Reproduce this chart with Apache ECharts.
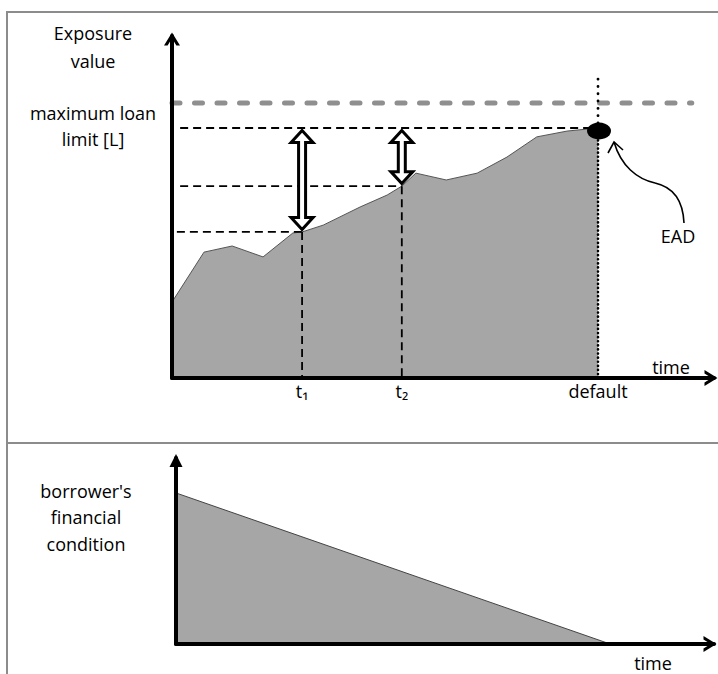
<!DOCTYPE html>
<html>
<head>
<meta charset="utf-8">
<script src="https://cdn.jsdelivr.net/npm/echarts@6.0.0/dist/echarts.min.js"></script>
<style>
html,body{margin:0;padding:0;background:#fff;}
#chart{width:718px;height:674px;}
</style>
</head>
<body>
<div id="chart"></div>
<script>
// ---- data (arbitrary units 0..100) ----
const timeTicks = [24.0, 42.4, 78.6];
const tickLabels = ['t\u2081', 't\u2082', 'default'];
const exposureTime  = [0, 5.9, 11.1, 16.8, 22.3, 24.0, 27.9, 34.7, 39.7, 42.4, 45.0, 50.6, 56.3, 61.8, 67.3, 72.9, 78.6];
const exposureValue = [22.2, 36.8, 38.6, 35.4, 42.4, 42.7, 44.7, 50.0, 53.5, 56.1, 59.9, 57.9, 59.9, 64.6, 70.5, 72.2, 73.1];
const loanLimit = 80.4;
const limitExtent = [0, 95.9];
const refStart = [0.9, 1.5, 1.5];   // start of dashed level lines for t1, t2, default
const defaultLineTop = 87.4;
const conditionTime  = [0, 80.7];
const conditionValue = [81.2, 0];

// ---- helpers ----
const FONT = '"Open Sans", "Noto Sans", sans-serif';
const TXT = '#000';
const GRAY = '#a6a6a6';
const chevron = 'path://M8,0 L16,13 L12.4,13 L8,5.8 L3.6,13 L0,13 Z';

function levelAt(t) {
  const i = exposureTime.findIndex(v => Math.abs(v - t) < 1e-9);
  return exposureValue[i];
}
const levels = timeTicks.map(levelAt);
const eadLevel = levels[2];

function seg(points, style, z) {
  return {
    type: 'line', xAxisIndex: 0, yAxisIndex: 0, data: points,
    symbol: 'none', silent: true, z: z || 3,
    lineStyle: style
  };
}
const dashStyle = { color: '#000', width: 1.8, type: [8, 5] };

const series = [];
// exposure area
series.push({
  type: 'line', xAxisIndex: 0, yAxisIndex: 0,
  data: exposureTime.map((t, i) => [t, exposureValue[i]]),
  symbol: 'none', silent: true, z: 2,
  lineStyle: { color: '#555', width: 1 },
  areaStyle: { color: GRAY, opacity: 1 }
});
// loan limit
series.push(seg([[limitExtent[0], loanLimit], [limitExtent[1], loanLimit]],
  { color: '#8f8f8f', width: 5, type: [8, 14.5], cap: 'round' }, 3));
// dashed level lines and verticals
for (let i = 0; i < timeTicks.length; i++) {
  series.push(seg([[refStart[i], levels[i]], [timeTicks[i], levels[i]]], dashStyle, 3));
  if (i < 2) series.push(seg([[timeTicks[i], levels[i]], [timeTicks[i], 0]], dashStyle, 3));
}
// dotted default line
series.push(seg([[timeTicks[2], defaultLineTop], [timeTicks[2], eadLevel]],
  { color: '#000', width: 2.8, type: [0.1, 7.2], cap: 'round' }, 3));
series.push(seg([[timeTicks[2], eadLevel], [timeTicks[2], 0]],
  { color: '#000', width: 2.6, type: [0.1, 4], cap: 'round' }, 3));
// hollow double arrows (gap between exposure at t_i and EAD)
series.push({
  type: 'custom', xAxisIndex: 0, yAxisIndex: 0, z: 5, silent: true,
  data: [[timeTicks[0], levels[0], eadLevel], [timeTicks[1], levels[1], eadLevel]],
  renderItem: function (params, api) {
    const top = api.coord([api.value(0), api.value(2)]);
    const bot = api.coord([api.value(0), api.value(1)]);
    const x = top[0], hw = 11, sw = 3.5, hh = 12;
    const y1 = top[1] + 2.5, y2 = bot[1] - 2.5;
    const pts = [[x, y1], [x + hw, y1 + hh], [x + sw, y1 + hh], [x + sw, y2 - hh], [x + hw, y2 - hh],
                 [x, y2], [x - hw, y2 - hh], [x - sw, y2 - hh], [x - sw, y1 + hh], [x - hw, y1 + hh]];
    return { type: 'polygon', shape: { points: pts },
      style: { fill: '#fff', stroke: '#000', lineWidth: 3, lineJoin: 'miter' } };
  }
});
// EAD point
series.push({
  type: 'scatter', xAxisIndex: 0, yAxisIndex: 0, z: 6, silent: true,
  data: [[timeTicks[2], eadLevel]],
  symbol: 'circle', symbolSize: [24, 17], symbolOffset: [1, 3],
  itemStyle: { color: '#000', opacity: 1 }
});
// EAD annotation
series.push({
  type: 'custom', xAxisIndex: 0, yAxisIndex: 0, z: 6, silent: true,
  data: [[timeTicks[2], eadLevel]],
  renderItem: function (params, api) {
    const p = api.coord([api.value(0), api.value(1)]);
    const x = p[0], y = p[1];
    const st = { stroke: '#000', lineWidth: 1.6, fill: 'none' };
    return { type: 'group', children: [
      { type: 'bezierCurve', shape: { x1: x + 86, y1: y + 95, cpx1: x + 85, cpy1: y + 73, cpx2: x + 75, cpy2: y + 59, x2: x + 57, y2: y + 55 }, style: st },
      { type: 'bezierCurve', shape: { x1: x + 57, y1: y + 55, cpx1: x + 39, cpy1: y + 51, cpx2: x + 23, cpy2: y + 38, x2: x + 16, y2: y + 14 }, style: st },
      { type: 'polyline', shape: { points: [[x + 10, y + 25], [x + 16, y + 14], [x + 25, y + 22]] }, style: st },
      { type: 'text', style: { text: 'EAD', x: x + 80, y: y + 108, align: 'center', verticalAlign: 'middle',
          fontSize: 18, fontFamily: FONT, fill: TXT } }
    ]};
  }
});
// borrower's financial condition
series.push({
  type: 'line', xAxisIndex: 1, yAxisIndex: 1,
  data: conditionTime.map((t, i) => [t, conditionValue[i]]),
  symbol: 'none', silent: true, z: 2,
  lineStyle: { color: '#444', width: 1 },
  areaStyle: { color: GRAY, opacity: 1 }
});

const noAxisBits = { axisTick: { show: false }, splitLine: { show: false } };

const option = {
  animation: false,
  backgroundColor: '#fff',
  grid: [
    { left: 172, top: 36, width: 542, height: 342, outerBoundsMode: 'none', containLabel: false },
    { left: 176, top: 458, width: 538, height: 186, outerBoundsMode: 'none', containLabel: false }
  ],
  xAxis: [
    Object.assign({
      type: 'value', gridIndex: 0, min: 0, max: 100, z: 10,
      axisLine: { show: true, onZero: false, lineStyle: { color: '#000', width: 4 },
        symbol: ['none', chevron], symbolSize: [16, 14], symbolOffset: [0, -3] },
      axisLabel: { show: true, customValues: timeTicks, margin: 4, fontSize: 18, fontFamily: FONT, color: TXT,
        formatter: function (v) {
          const i = timeTicks.findIndex(t => Math.abs(t - v) < 1e-6);
          return i >= 0 ? tickLabels[i] : '';
        } }
    }, noAxisBits),
    Object.assign({
      type: 'value', gridIndex: 1, min: 0, max: 100, z: 10,
      axisLine: { show: true, onZero: false, lineStyle: { color: '#000', width: 4 },
        symbol: ['none', chevron], symbolSize: [16, 14], symbolOffset: [0, -4] },
      axisLabel: { show: false }
    }, noAxisBits)
  ],
  yAxis: [
    Object.assign({
      type: 'value', gridIndex: 0, min: 0, max: 100, z: 10,
      axisLine: { show: true, onZero: false, lineStyle: { color: '#000', width: 4 },
        symbol: ['none', chevron], symbolSize: [16, 14], symbolOffset: [0, -3] },
      axisLabel: { show: false }
    }, noAxisBits),
    Object.assign({
      type: 'value', gridIndex: 1, min: 0, max: 100, z: 10,
      axisLine: { show: true, onZero: false, lineStyle: { color: '#000', width: 4 },
        symbol: ['none', 'triangle'], symbolSize: [13, 13], symbolOffset: [0, -2.5] },
      axisLabel: { show: false }
    }, noAxisBits)
  ],
  graphic: [
    { type: 'line', silent: true, shape: { x1: 7, y1: 12, x2: 718, y2: 12 }, style: { stroke: '#8c8c8c', lineWidth: 2 } },
    { type: 'line', silent: true, shape: { x1: 7, y1: 11, x2: 7, y2: 674 }, style: { stroke: '#8c8c8c', lineWidth: 2 } },
    { type: 'line', silent: true, shape: { x1: 7, y1: 443, x2: 718, y2: 443 }, style: { stroke: '#8c8c8c', lineWidth: 2 } },
    { type: 'text', silent: true, style: { text: 'Exposure\nvalue', x: 93, y: 47, align: 'center', verticalAlign: 'middle', lineHeight: 28, fontSize: 18, fontFamily: FONT, fill: TXT } },
    { type: 'text', silent: true, style: { text: 'maximum loan\nlimit [L]', x: 93, y: 126, align: 'center', verticalAlign: 'middle', lineHeight: 26, fontSize: 18, fontFamily: FONT, fill: TXT } },
    { type: 'text', silent: true, style: { text: 'time', x: 671, y: 367, align: 'center', verticalAlign: 'middle', fontSize: 18, fontFamily: FONT, fill: TXT } },
    { type: 'text', silent: true, style: { text: "borrower's\nfinancial\ncondition", x: 86, y: 517, align: 'center', verticalAlign: 'middle', lineHeight: 26.5, fontSize: 18, fontFamily: FONT, fill: TXT } },
    { type: 'text', silent: true, style: { text: 'time', x: 653, y: 663, align: 'center', verticalAlign: 'middle', fontSize: 18, fontFamily: FONT, fill: TXT } }
  ],
  series: series
};

const chart = echarts.init(document.getElementById('chart'), null, { renderer: 'svg' });
chart.setOption(option);
</script>
</body>
</html>
